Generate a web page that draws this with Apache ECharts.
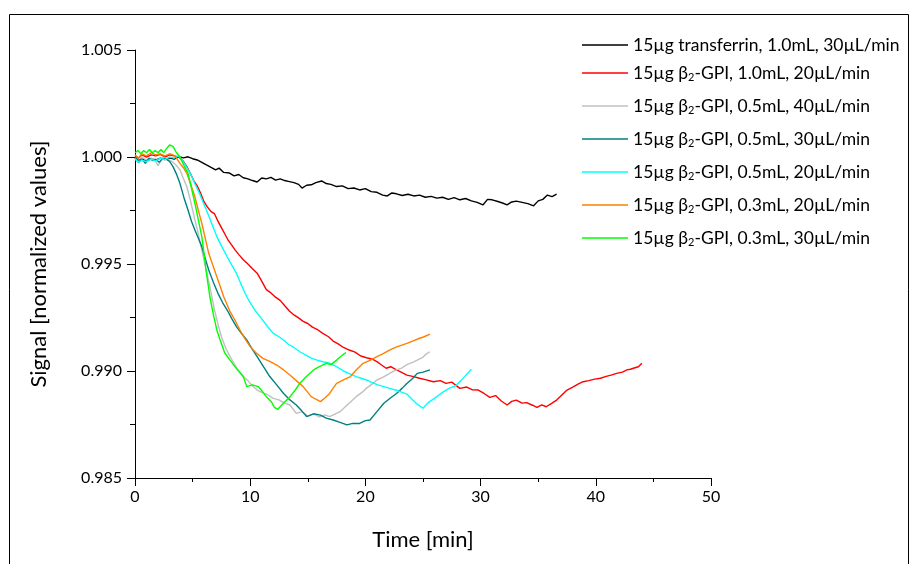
<!DOCTYPE html>
<html>
<head>
<meta charset="utf-8">
<script src="https://cdn.jsdelivr.net/npm/echarts@6/dist/echarts.min.js"></script>
<style>html,body{margin:0;padding:0;background:#fff}#c{width:910px;height:564px}</style>
</head>
<body>
<div id="c"></div>
<script>
var FONT = 'Lato';
var seriesNames = [
  '15µg transferrin, 1.0mL, 30µL/min',
  '15µg β{s|2}-GPI, 1.0mL, 20µL/min',
  '15µg β{s|2}-GPI, 0.5mL, 40µL/min',
  '15µg β{s|2}-GPI, 0.5mL, 30µL/min',
  '15µg β{s|2}-GPI, 0.5mL, 20µL/min',
  '15µg β{s|2}-GPI, 0.3mL, 20µL/min',
  '15µg β{s|2}-GPI, 0.3mL, 30µL/min'
];
var seriesColors = ['#000000', '#ff0000', '#c0c0c0', '#008080', '#00ffff', '#ff8000', '#00ff00'];
var xTicks = [0, 10, 20, 30, 40, 50];
var yTicks = [0.985, 0.990, 0.995, 1.000, 1.005];

var transferrin10 = [[0,0.99995],[0.3,0.99975],[0.6,0.99990],[1.0,0.99982],[1.4,0.99992],[1.8,0.99985],[2.2,0.99995],[2.6,0.99988],[3.0,0.99996],[3.4,0.99990],[3.8,1.00002],[4.2,0.99996],[4.6,1.00001],[5.0,0.99992],[5.4,0.99986],[5.8,0.99975],[6.2,0.99963],[6.6,0.99952],[7.0,0.99940],[7.3,0.99948],[7.7,0.99928],[8.2,0.99925],[8.6,0.99912],[9.0,0.99918],[9.4,0.99903],[9.8,0.99898],[10.2,0.99890],[10.6,0.99883],[11.0,0.99902],[11.4,0.99898],[11.8,0.99905],[12.2,0.99892],[12.6,0.99898],[13.0,0.99890],[13.4,0.99885],[13.8,0.99880],[14.2,0.99872],[14.5,0.99855],[14.9,0.99868],[15.3,0.99870],[15.7,0.99880],[16.2,0.99888],[16.6,0.99876],[17.0,0.99872],[17.5,0.99862],[18.0,0.99865],[18.5,0.99852],[19.0,0.99855],[19.5,0.99846],[20.0,0.99852],[20.5,0.99838],[21.0,0.99835],[21.5,0.99822],[21.9,0.99818],[22.3,0.99832],[22.7,0.99828],[23.2,0.99820],[23.7,0.99826],[24.2,0.99818],[24.7,0.99822],[25.2,0.99812],[25.7,0.99816],[26.2,0.99808],[26.7,0.99812],[27.2,0.99802],[27.7,0.99810],[28.2,0.99800],[28.7,0.99806],[29.2,0.99795],[29.7,0.99788],[30.2,0.99776],[30.6,0.99802],[31.0,0.99800],[31.5,0.99792],[31.9,0.99785],[32.3,0.99776],[32.7,0.99790],[33.1,0.99794],[33.6,0.99788],[34.1,0.99782],[34.6,0.99772],[35.0,0.99795],[35.4,0.99802],[35.8,0.99822],[36.2,0.99815],[36.6,0.99826]];
var gpi10_20 = [[0,1.00005],[0.3,0.99995],[0.6,1.0001],[1.0,1.0],[1.4,1.0001],[1.8,1.00005],[2.2,1.00012],[2.6,1.0],[3.0,1.0001],[3.4,1.00005],[3.8,1.0],[4.2,0.9998],[4.5,0.99955],[4.8,0.99924],[5.1,0.99890],[5.4,0.99865],[5.7,0.99830],[6.0,0.99790],[6.3,0.99765],[6.6,0.99745],[6.9,0.99735],[7.2,0.99700],[7.5,0.99670],[7.8,0.99640],[8.1,0.99610],[8.4,0.99588],[8.7,0.99565],[9.0,0.99545],[9.4,0.99520],[9.8,0.99500],[10.2,0.99478],[10.6,0.99457],[11.0,0.99420],[11.4,0.99380],[11.8,0.99365],[12.2,0.99345],[12.6,0.99330],[13.0,0.99305],[13.4,0.99280],[13.8,0.99262],[14.2,0.99248],[14.6,0.99232],[15.0,0.99222],[15.4,0.99205],[15.8,0.99195],[16.3,0.99176],[16.8,0.99160],[17.2,0.99140],[17.6,0.99128],[18.1,0.99110],[18.6,0.99098],[19.1,0.99088],[19.6,0.99070],[20.1,0.99062],[20.6,0.99055],[21.0,0.99044],[21.4,0.99028],[21.8,0.99013],[22.2,0.99020],[22.7,0.99005],[23.1,0.98995],[23.6,0.98981],[24.1,0.98975],[24.7,0.98966],[25.2,0.98960],[25.9,0.98950],[26.5,0.98955],[27.0,0.98942],[27.5,0.98948],[28.2,0.98919],[28.8,0.98925],[29.3,0.98912],[29.8,0.98911],[30.3,0.98895],[30.8,0.98877],[31.3,0.98885],[31.8,0.98860],[32.3,0.98841],[32.7,0.98858],[33.1,0.98864],[33.6,0.98850],[34.0,0.98852],[34.5,0.98840],[34.9,0.98830],[35.3,0.98842],[35.7,0.98833],[36.2,0.98850],[36.6,0.98864],[37.1,0.98890],[37.5,0.98911],[38.0,0.98925],[38.5,0.98940],[38.9,0.98950],[39.4,0.98955],[39.9,0.98962],[40.4,0.98966],[40.9,0.98975],[41.4,0.98982],[41.8,0.98989],[42.3,0.98995],[42.7,0.99005],[43.0,0.99008],[43.4,0.99015],[43.7,0.99020],[44.0,0.99036]];
var gpi05_40 = [[0,0.99995],[0.3,0.9998],[0.6,1.0],[1.0,0.99985],[1.4,0.99995],[1.8,0.9998],[2.0,0.9996],[2.3,0.99985],[2.7,0.99995],[3.0,0.99985],[3.3,0.99975],[3.6,0.99960],[3.9,0.9994],[4.2,0.9990],[4.5,0.99861],[4.8,0.99800],[5.2,0.99706],[5.5,0.99640],[5.8,0.99565],[6.1,0.99490],[6.5,0.99394],[6.9,0.99285],[7.2,0.99220],[7.5,0.99160],[7.9,0.99105],[8.25,0.99067],[8.6,0.99035],[9.0,0.99000],[9.4,0.98974],[9.8,0.98955],[10.2,0.98930],[10.6,0.98911],[11.0,0.98900],[11.5,0.98890],[12.0,0.98872],[12.5,0.98865],[13.0,0.98850],[13.45,0.98841],[14.0,0.98802],[14.5,0.98810],[15.0,0.98790],[15.5,0.98800],[16.0,0.98785],[16.5,0.98795],[16.9,0.98787],[17.4,0.98800],[17.8,0.98810],[18.3,0.98835],[18.8,0.98860],[19.2,0.98880],[19.7,0.98900],[20.1,0.98920],[20.6,0.98940],[21.0,0.98958],[21.5,0.98970],[22.0,0.98985],[22.4,0.98998],[22.7,0.99005],[23.2,0.99015],[23.6,0.99030],[24.1,0.99040],[24.5,0.99051],[25.0,0.99065],[25.3,0.99080],[25.6,0.99090]];
var gpi05_30 = [[0,1.0],[0.3,0.99985],[0.6,0.9999],[0.9,0.9997],[1.2,0.99995],[1.5,0.99985],[1.8,0.99990],[2.1,0.99975],[2.4,0.99995],[2.7,0.9999],[3.0,0.9998],[3.3,0.99955],[3.6,0.99920],[3.9,0.99877],[4.25,0.99810],[4.6,0.99752],[4.9,0.99700],[5.2,0.99659],[5.5,0.99620],[5.8,0.99581],[6.1,0.99525],[6.4,0.99472],[6.8,0.99415],[7.2,0.99363],[7.6,0.99320],[8.0,0.99285],[8.4,0.99245],[8.8,0.99207],[9.25,0.99175],[9.7,0.99145],[10.15,0.99105],[10.6,0.99067],[11.15,0.99020],[11.7,0.98974],[12.3,0.98935],[12.9,0.98895],[13.45,0.98865],[14.0,0.98841],[14.45,0.98815],[14.9,0.98787],[15.5,0.98800],[16.1,0.98794],[16.6,0.98780],[17.2,0.98771],[17.8,0.98760],[18.4,0.98748],[18.9,0.98755],[19.5,0.98755],[20.0,0.98768],[20.4,0.98771],[21.0,0.98810],[21.6,0.98849],[22.2,0.98875],[22.7,0.98895],[23.2,0.98920],[23.6,0.98942],[24.1,0.98965],[24.5,0.98989],[25.0,0.98995],[25.6,0.99005]];
var gpi05_20 = [[0,0.9999],[0.3,0.99975],[0.6,0.99985],[1.0,0.99978],[1.4,0.9999],[1.8,0.99982],[2.2,0.99995],[2.6,0.99988],[3.0,1.0],[3.4,0.99995],[3.8,1.00005],[4.1,0.99985],[4.45,0.99955],[4.8,0.99924],[5.2,0.99875],[5.6,0.99830],[5.9,0.99790],[6.2,0.99752],[6.65,0.99690],[7.1,0.99628],[7.55,0.99580],[8.0,0.99534],[8.4,0.99495],[8.8,0.99457],[9.25,0.99400],[9.7,0.99347],[10.0,0.99320],[10.4,0.99285],[10.85,0.99254],[11.4,0.99215],[12.0,0.99176],[12.5,0.99160],[12.9,0.99145],[13.3,0.99125],[13.8,0.99110],[14.3,0.99090],[14.8,0.99075],[15.3,0.99060],[15.8,0.99051],[16.4,0.99042],[16.9,0.99036],[17.5,0.99020],[18.1,0.99000],[18.6,0.98988],[19.2,0.98974],[19.7,0.98965],[20.1,0.98958],[20.6,0.98945],[21.1,0.98935],[21.6,0.98927],[22.1,0.98919],[22.7,0.98910],[23.2,0.98900],[23.6,0.98892],[24.0,0.98870],[24.5,0.98845],[25.0,0.98826],[25.4,0.98850],[25.8,0.98865],[26.2,0.98880],[26.7,0.98900],[27.3,0.98920],[27.8,0.98930],[28.3,0.98955],[28.8,0.98985],[29.2,0.99008]];
var gpi03_20 = [[0,1.0001],[0.3,0.99995],[0.6,1.00015],[1.0,1.00005],[1.4,1.0002],[1.8,1.0001],[2.2,1.00015],[2.6,1.00005],[3.0,1.00015],[3.3,1.0001],[3.6,0.99995],[3.9,0.9997],[4.2,0.99950],[4.5,0.99924],[4.85,0.99870],[5.2,0.99814],[5.5,0.99750],[5.8,0.99690],[6.1,0.99620],[6.4,0.99550],[6.75,0.99495],[7.1,0.99441],[7.4,0.99395],[7.7,0.99347],[8.0,0.99310],[8.25,0.99277],[8.7,0.99235],[9.1,0.99192],[9.55,0.99150],[10.0,0.99114],[10.5,0.99085],[11.1,0.99059],[11.7,0.99045],[12.3,0.99028],[12.9,0.99005],[13.45,0.98981],[14.0,0.98955],[14.6,0.98927],[15.0,0.98900],[15.3,0.98880],[15.7,0.98868],[16.1,0.98857],[16.5,0.98875],[16.9,0.98895],[17.2,0.98920],[17.5,0.98942],[18.1,0.98958],[18.7,0.98974],[19.2,0.99005],[19.8,0.99036],[20.4,0.99050],[21.0,0.99067],[21.5,0.99080],[22.1,0.99098],[22.6,0.99110],[23.1,0.99120],[23.6,0.99129],[24.1,0.99140],[24.7,0.99153],[25.1,0.99160],[25.6,0.99172]];
var gpi03_30 = [[0,1.0002],[0.25,1.0003],[0.5,1.00015],[0.75,1.0003],[1.0,1.0002],[1.25,1.00035],[1.5,1.0002],[1.75,1.0003],[2.0,1.0002],[2.25,1.00035],[2.5,1.0002],[2.75,1.0004],[3.0,1.00056],[3.3,1.0005],[3.6,1.0002],[3.9,1.0],[4.25,0.9996],[4.6,0.99924],[4.9,0.99855],[5.2,0.99784],[5.5,0.99705],[5.8,0.99628],[6.0,0.99545],[6.2,0.99457],[6.5,0.99347],[6.8,0.99265],[7.1,0.99192],[7.45,0.99135],[7.8,0.99083],[8.25,0.99051],[8.8,0.99012],[9.4,0.98974],[9.7,0.98927],[10.2,0.98935],[10.7,0.98927],[11.05,0.98905],[11.4,0.98880],[11.85,0.98855],[12.1,0.98830],[12.4,0.98821],[12.9,0.98850],[13.45,0.98880],[13.9,0.98910],[14.3,0.98942],[14.9,0.98975],[15.5,0.99005],[16.0,0.99020],[16.6,0.99036],[17.0,0.99030],[17.5,0.99051],[17.9,0.99070],[18.3,0.99086]];

var seriesData = [transferrin10, gpi10_20, gpi05_40, gpi05_30, gpi05_20, gpi03_20, gpi03_30];

var chart = echarts.init(document.getElementById('c'), null, {renderer: 'canvas'});
var series = seriesData.map(function (d, i) {
  return {
    name: seriesNames[i], type: 'line', data: d, symbol: 'none', showSymbol: false,
    animation: false, color: seriesColors[i],
    lineStyle: {width: 1.4, color: seriesColors[i]}
  };
});
var legendText = {
  fontFamily: FONT, fontSize: 17.5, color: '#000', lineHeight: 20,
  rich: {s: {fontFamily: FONT, fontSize: 11, color: '#000', verticalAlign: 'bottom', padding: [10, 0, 0, 0]}}
};
function legendCfg(names, top) {
  return {
    data: names.map(function (n) { return {name: n, icon: 'rect'}; }),
    orient: 'vertical', left: 582, top: top, padding: 0,
    itemWidth: 46, itemHeight: 1.5, itemGap: 13, textStyle: legendText, selectedMode: false
  };
}
var option = {
  animation: false,
  backgroundColor: '#fff',
  grid: {left: 135, top: 50, width: 576, height: 428, containLabel: false},
  legend: [legendCfg([seriesNames[0]], 35), legendCfg(seriesNames.slice(1), 63)],
  xAxis: {
    type: 'value', min: xTicks[0], max: xTicks[xTicks.length - 1], interval: 10,
    name: 'Time [min]', nameLocation: 'middle', nameGap: 51,
    nameTextStyle: {fontFamily: FONT, fontSize: 22, color: '#000'},
    axisLine: {show: true, lineStyle: {color: '#000', width: 1}},
    axisTick: {show: true, inside: false, length: 8, lineStyle: {color: '#000'}},
    minorTick: {show: true, splitNumber: 2, length: 4, lineStyle: {color: '#000'}},
    axisLabel: {fontFamily: FONT, fontSize: 16, color: '#000', margin: 11},
    splitLine: {show: false}
  },
  yAxis: {
    type: 'value', min: yTicks[0], max: yTicks[yTicks.length - 1], interval: 0.005,
    name: 'Signal [normalized values]', nameLocation: 'middle', nameGap: 85,
    nameTextStyle: {fontFamily: FONT, fontSize: 22, color: '#000'},
    axisLine: {show: true, lineStyle: {color: '#000', width: 1}},
    axisTick: {show: true, inside: false, length: 8, lineStyle: {color: '#000'}},
    minorTick: {show: true, splitNumber: 2, length: 5, lineStyle: {color: '#000'}},
    axisLabel: {fontFamily: FONT, fontSize: 16, color: '#000', margin: 13, formatter: function (v) { return v.toFixed(3); }},
    splitLine: {show: false}
  },
  graphic: [{type: 'rect', shape: {x: 9.5, y: 14.5, width: 899, height: 600}, style: {fill: 'none', stroke: '#000', lineWidth: 1}, silent: true, z: -1}],
  series: series
};
chart.setOption(option);
</script>
</body>
</html>
